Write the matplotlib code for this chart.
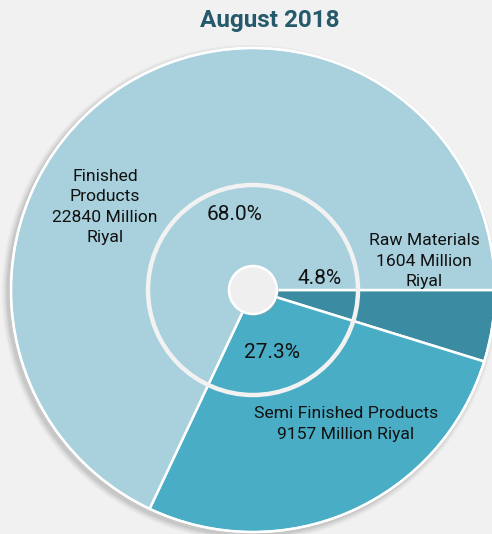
import matplotlib.pyplot as plt
from matplotlib.patches import Circle

plt.rcParams['font.family'] = ['Roboto', 'DejaVu Sans']

# data
categories = ['Raw Materials', 'Semi Finished Products', 'Finished Products']
values = [1604, 9157, 22840]
colors = ['#3b8ca3', '#4aadc6', '#a8d0dd']
title = 'August 2018'

W, H = 492, 534
fig = plt.figure(figsize=(W / 100, H / 100), dpi=100)
fig.patch.set_facecolor('#f1f1f1')
ax = fig.add_axes([0, 0, 1, 1])

cx, cy = 253, H - 290
R = 242

# soft shadow under the big disc
for i, a in enumerate([0.05, 0.06, 0.08, 0.10]):
    ax.add_patch(Circle((cx - 3, cy - 3), R + 6 - i * 1.5, color='#555555',
                        alpha=a, lw=0, zorder=0))

wedges, _ = ax.pie(values, colors=colors, startangle=0, counterclock=False,
                   center=(cx, cy), radius=R, frame=True,
                   wedgeprops=dict(edgecolor='white', linewidth=1.8))
for w in wedges:
    w.set_zorder(1)
ax.set_xlim(0, W)
ax.set_ylim(0, H)
ax.set_aspect('equal')
ax.axis('off')

# outer white rim
ax.add_patch(Circle((cx, cy), R, fill=False, ec='white', lw=1.5, zorder=2))
# inner ring
ax.add_patch(Circle((cx, cy), 105, fill=False, ec='#f2f2f2', lw=3.2, zorder=3))
# center hole
ax.add_patch(Circle((cx + 1, cy - 1), 25, color='#999999', alpha=0.35, lw=0, zorder=3))
ax.add_patch(Circle((cx, cy), 24, fc='#efefef', ec='white', lw=1.8, zorder=4))

total = sum(values)
pcts = ['%.1f%%' % (v / total * 100) for v in values]
pct_pos = [(320, 279), (272, 353), (235, 215)]
for p, (x, y) in zip(pcts, pct_pos):
    ax.text(x, H - y, p, ha='center', va='center', fontsize=15,
            color='#111111', zorder=5)

labels = ['Raw Materials\n%d Million\nRiyal' % values[0],
          'Semi Finished Products\n%d Million Riyal' % values[1],
          'Finished\nProducts\n%d Million\nRiyal' % values[2]]
label_pos = [(424, 261), (346, 424), (105, 207)]
for t, (x, y) in zip(labels, label_pos):
    ax.text(x, H - y, t, ha='center', va='center', fontsize=12.6,
            color='#111111', linespacing=1.42, zorder=5)

ax.text(270, H - 20, title, ha='center', va='center', fontsize=17.5,
        fontweight='bold', color='#245a6b', zorder=5)

plt.savefig('out.png', dpi=100, facecolor=fig.get_facecolor())
